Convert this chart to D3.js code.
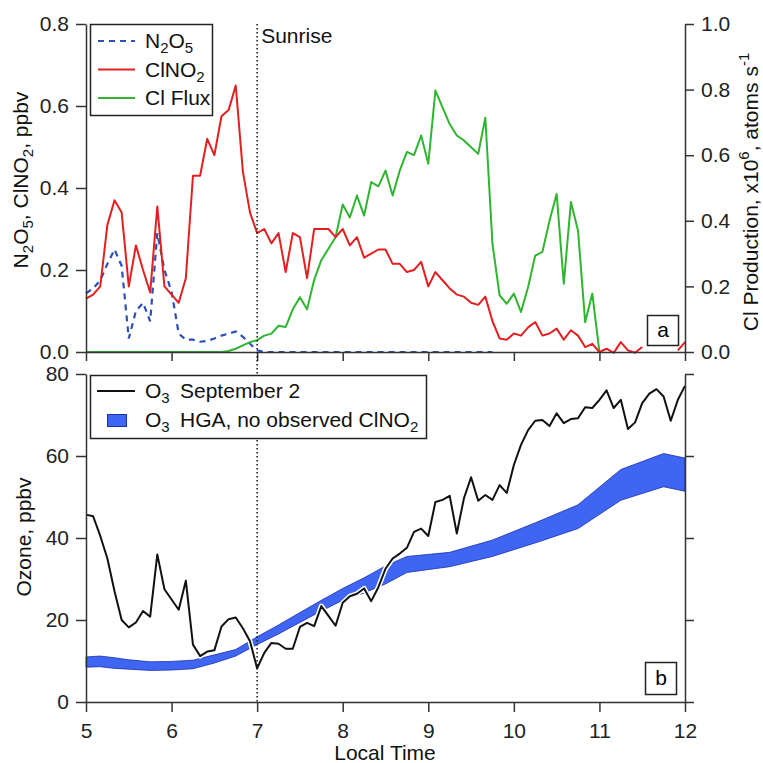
<!DOCTYPE html>
<html>
<head>
<meta charset="utf-8">
<script src="https://cdn.jsdelivr.net/npm/d3@7"></script>
<style>
body { margin: 0; background: #fff; }
svg { display: block; }
</style>
</head>
<body>
<svg id="chart"></svg>
<script>
// 5-minute local time grid
var times = [
  "5:00","5:05","5:10","5:15","5:20","5:25","5:30","5:35","5:40","5:45","5:50","5:55",
  "6:00","6:05","6:10","6:15","6:20","6:25","6:30","6:35","6:40","6:45","6:50","6:55",
  "7:00","7:05","7:10","7:15","7:20","7:25","7:30","7:35","7:40","7:45","7:50","7:55",
  "8:00","8:05","8:10","8:15","8:20","8:25","8:30","8:35","8:40","8:45","8:50","8:55",
  "9:00","9:05","9:10","9:15","9:20","9:25","9:30","9:35","9:40","9:45","9:50","9:55",
  "10:00","10:05","10:10","10:15","10:20","10:25","10:30","10:35","10:40","10:45","10:50","10:55",
  "11:00","11:05","11:10","11:15","11:20","11:25","11:30","11:35","11:40","11:45","11:50","11:55",
  "12:00"
];

// ppbv
var n2o5 = [
  0.143,0.155,0.175,0.215,0.25,0.21,0.033,0.10,0.12,0.075,0.29,0.20,
  0.147,0.045,0.03,0.03,0.025,0.027,0.033,0.04,0.045,0.05,0.037,0.02,
  0.004,0,0,0,0,0,0,0,0,0,0,0,
  0,0,0,0,0,0,0,0,0,0,0,0,
  0,0,0,0,0,0,0,0,0,0,null,null,
  null,null,null,null,null,null,null,null,null,null,null,null,
  null,null,null,null,null,null,null,null,null,null,null,null,
  null
];

var clno2 = [
  0.13,0.14,0.16,0.31,0.37,0.34,0.16,0.26,0.20,0.145,0.355,0.16,
  0.14,0.12,0.18,0.43,0.43,0.52,0.48,0.575,0.59,0.65,0.44,0.34,
  0.29,0.30,0.265,0.29,0.195,0.29,0.28,0.18,0.30,0.30,0.30,0.28,
  0.30,0.26,0.28,0.23,0.24,0.25,0.25,0.215,0.215,0.195,0.20,0.22,
  0.16,0.195,0.175,0.155,0.14,0.135,0.12,0.115,0.135,0.075,0.033,0.03,
  0.045,0.04,0.06,0.073,0.04,0.045,0.057,0.03,0.053,0.04,0.012,0.02,
  0.0,0.008,-0.002,0.024,0.004,-0.002,0.012,null,null,null,null,0.004,
  0.024
];

// x10^6 atoms s-1
var cl_flux = [
  0,0,0,0,0,0,0,0,0,0,0,0,
  0,0,0,0,0,0,0,0,0.003,0.01,0.02,0.03,
  0.036,0.05,0.056,0.08,0.076,0.13,0.167,0.13,0.22,0.28,0.315,0.35,
  0.45,0.41,0.477,0.416,0.518,0.505,0.553,0.477,0.553,0.61,0.60,0.66,
  0.574,0.797,0.746,0.695,0.66,0.645,0.624,0.604,0.714,0.33,0.173,0.147,
  0.178,0.122,0.198,0.294,0.305,0.40,0.482,0.208,0.457,0.37,0.091,0.178,
  0,null,null,null,null,null,null,null,null,null,null,null,
  null
];

// ozone, ppbv
var o3 = [
  45.7,45.3,40.5,35,27,20,18.2,19.4,22.2,20.8,36,27.5,
  25,22.5,29.6,14,11.2,12.3,12.6,18.4,20.2,20.6,18,14.8,
  8.2,12,14.4,14.2,13,13,18.3,19.3,18.5,23.4,21,18.6,
  24.2,25.8,26.4,27.7,24.6,28,32.5,35,36.2,37.6,41.5,42.3,
  40.5,48.8,49.3,50.3,41.1,49.7,54.8,49.1,50.5,49.3,52.9,51,
  57.8,62.7,66.3,68.6,68.8,67.3,70.4,68,69,69.2,71.9,71.7,
  73.7,76,71.7,73.7,66.6,68.2,72.9,75.2,76.3,74.5,68.6,73.7,
  77.1
];

// HGA ozone range, no observed ClNO2
var hga_time = ["5:00","5:10","5:20","5:30","5:45","6:00","6:15","6:30","6:45","7:00","7:15","7:30",
                "7:45","8:00","8:15","8:30","8:45","9:15","9:45","10:15","10:45","11:15","11:45","12:00"];
var hga_high = [11, 11.2, 10.8, 10.3, 9.8, 9.9, 10.2, 11.5, 12.8, 15.9, 18.8, 21.8,
                24.8, 27.7, 30.3, 33.2, 35.5, 36.5, 39.5, 43.7, 48.1, 56.7, 60.6, 59.5];
var hga_low  = [8.5, 8.6, 8.2, 8.0, 7.7, 7.8, 8.1, 9.5, 11.2, 14.0, 16.6, 19.4,
                22.2, 24.8, 26.6, 28.8, 31.6, 33.0, 35.5, 38.8, 42.3, 49.2, 52.5, 51.4];

var hour_ticks = [5, 6, 7, 8, 9, 10, 11, 12];
var ppbv_ticks = [0, 0.2, 0.4, 0.6, 0.8];
var flux_ticks = [0, 0.2, 0.4, 0.6, 0.8, 1.0];
var o3_ticks = [0, 20, 40, 60, 80];
var sunrise = "7:00";

var FONT = "'Liberation Sans', Arial, Helvetica, sans-serif";
var FS = 21;
var AXIS = "#333";

function to_hours(s) {
    var p = s.split(":");
    return +p[0] + (+p[1]) / 60;
}

var hours = times.map(to_hours);

var chart = d3.select("#chart")
    .attr("width", 763)
    .attr("height", 763)
    .style("font-family", FONT);

chart.append("rect")
    .attr("width", "100%")
    .attr("height", "100%")
    .attr("fill", "white");

var xs = d3.scaleLinear().domain([5, 12]).range([86, 685]);
var ys_top = d3.scaleLinear().domain([0, 0.8]).range([352, 24]);
var ys_flux = d3.scaleLinear().domain([0, 1]).range([352, 24]);
var ys_o3 = d3.scaleLinear().domain([0, 80]).range([702, 374]);

// text with sub / superscripts
function rich_text(sel, parts, size) {
    var shift = 0;
    parts.forEach(function(p) {
        var t = sel.append("tspan").text(p[0]);
        var want = p[1] == "sub" ? 5 : (p[1] == "sup" ? -9 : 0);
        if (want != shift) t.attr("dy", want - shift);
        if (p[1]) t.style("font-size", Math.round(size * 0.7) + "px");
        shift = want;
    });
    return sel;
}

function style_axis(g) {
    g.attr("font-family", FONT).attr("font-size", FS);
    g.select(".domain").attr("stroke", AXIS).attr("stroke-width", 1.5);
    g.selectAll(".tick line").attr("stroke", AXIS).attr("stroke-width", 1.5);
    g.selectAll(".tick text").attr("fill", "#222");
}

function series(values) {
    return values.map((v, i) => [hours[i], v]);
}

// ---------------- panel a ----------------
chart.append("path")
    .datum(series(n2o5))
    .attr("fill", "none")
    .attr("stroke", "#2f4fb8")
    .attr("stroke-width", 2.2)
    .attr("stroke-dasharray", "6,5")
    .attr("d", d3.line()
        .defined(d => d[1] != null)
        .x(d => xs(d[0]))
        .y(d => ys_top(d[1])));

chart.append("path")
    .datum(series(cl_flux))
    .attr("fill", "none")
    .attr("stroke", "#2fb52f")
    .attr("stroke-width", 2)
    .attr("stroke-linejoin", "round")
    .attr("d", d3.line()
        .defined(d => d[1] != null)
        .x(d => xs(d[0]))
        .y(d => ys_flux(d[1])));

chart.append("path")
    .datum(series(clno2))
    .attr("fill", "none")
    .attr("stroke", "#e3201f")
    .attr("stroke-width", 2)
    .attr("stroke-linejoin", "round")
    .attr("d", d3.line()
        .defined(d => d[1] != null)
        .x(d => xs(d[0]))
        .y(d => ys_top(d[1])));

chart.append("g")
    .attr("transform", "translate(86,0)")
    .call(d3.axisLeft(ys_top).tickValues(ppbv_ticks).tickFormat(d3.format(".1f"))
        .tickSize(10).tickSizeOuter(0).tickPadding(7))
    .call(style_axis);

chart.append("g")
    .attr("transform", "translate(685,0)")
    .call(d3.axisRight(ys_flux).tickValues(flux_ticks).tickFormat(d3.format(".1f"))
        .tickSize(9).tickSizeOuter(0).tickPadding(7))
    .call(style_axis);

chart.append("g")
    .attr("transform", "translate(0,352)")
    .call(d3.axisBottom(xs).tickValues(hour_ticks).tickFormat("")
        .tickSize(9).tickSizeOuter(0))
    .call(style_axis);

rich_text(chart.append("text")
    .attr("transform", "translate(28,180) rotate(-90)")
    .attr("text-anchor", "middle")
    .style("font-size", FS + "px")
    .attr("fill", "#111"),
    [["N"], ["2", "sub"], ["O"], ["5", "sub"], [", ClNO"], ["2", "sub"], [", ppbv"]], FS);

rich_text(chart.append("text")
    .attr("transform", "translate(758,192) rotate(-90)")
    .attr("text-anchor", "middle")
    .style("font-size", FS + "px")
    .attr("fill", "#111"),
    [["Cl Production, x10"], ["6", "sup"], [", atoms s"], ["-1", "sup"]], FS);

// legend a
var leg_a = chart.append("g");
leg_a.append("rect")
    .attr("x", 90.5).attr("y", 24.5).attr("width", 122).attr("height", 91)
    .attr("fill", "white").attr("stroke", "#222").attr("stroke-width", 1.5);

var leg_a_items = [
    {parts: [["N"], ["2", "sub"], ["O"], ["5", "sub"]], color: "#2f4fb8", dash: "6,5"},
    {parts: [["ClNO"], ["2", "sub"]], color: "#e3201f", dash: null},
    {parts: [["Cl Flux"]], color: "#2fb52f", dash: null}
];
leg_a_items.forEach(function(d, i) {
    var yy = 41 + i * 28.5;
    leg_a.append("line")
        .attr("x1", 98).attr("x2", 135).attr("y1", yy).attr("y2", yy)
        .attr("stroke", d.color).attr("stroke-width", 2.2)
        .attr("stroke-dasharray", d.dash);
    rich_text(leg_a.append("text")
        .attr("x", 145).attr("y", yy + 7)
        .style("font-size", FS + "px").attr("fill", "#111"), d.parts, FS);
});

// panel label a
chart.append("rect")
    .attr("x", 647.5).attr("y", 315.5).attr("width", 31).attr("height", 30)
    .attr("fill", "white").attr("stroke", "#222").attr("stroke-width", 1.5);
chart.append("text")
    .attr("x", 663).attr("y", 337)
    .attr("text-anchor", "middle")
    .style("font-size", FS + "px")
    .text("a");

// ---------------- panel b ----------------
var hga = hga_time.map((t, i) => ({t: to_hours(t), lo: hga_low[i], hi: hga_high[i]}));

chart.append("path")
    .datum(hga)
    .attr("fill", "#3f66f2")
    .attr("stroke", "#1d2fb0")
    .attr("stroke-width", 0.8)
    .attr("d", d3.area()
        .x(d => xs(d.t))
        .y0(d => ys_o3(d.lo))
        .y1(d => ys_o3(d.hi)));

var o3_line = d3.line()
    .defined(d => d[1] != null)
    .x(d => xs(d[0]))
    .y(d => ys_o3(d[1]));

// white halo where the trace crosses the band
chart.append("path")
    .datum(series(o3))
    .attr("fill", "none")
    .attr("stroke", "white")
    .attr("stroke-width", 5)
    .attr("stroke-linejoin", "round")
    .attr("d", o3_line);

chart.append("path")
    .datum(series(o3))
    .attr("fill", "none")
    .attr("stroke", "#111")
    .attr("stroke-width", 2)
    .attr("stroke-linejoin", "round")
    .attr("d", o3_line);

// sunrise marker through both panels
chart.append("line")
    .attr("x1", xs(to_hours(sunrise))).attr("x2", xs(to_hours(sunrise)))
    .attr("y1", ys_top(0.8)).attr("y2", ys_o3(0))
    .attr("stroke", "#222")
    .attr("stroke-width", 1.6)
    .attr("stroke-dasharray", "1.5,2.5");

chart.append("text")
    .attr("x", xs(to_hours(sunrise)) + 4)
    .attr("y", 43)
    .style("font-size", FS + "px")
    .attr("fill", "#111")
    .text("Sunrise");

chart.append("g")
    .attr("transform", "translate(86,0)")
    .call(d3.axisLeft(ys_o3).tickValues(o3_ticks)
        .tickSize(10).tickSizeOuter(0).tickPadding(7))
    .call(style_axis);

chart.append("g")
    .attr("transform", "translate(685,0)")
    .call(d3.axisRight(ys_o3).tickValues(o3_ticks).tickFormat("")
        .tickSize(9).tickSizeOuter(0))
    .call(style_axis);

chart.append("g")
    .attr("transform", "translate(0,702)")
    .call(d3.axisBottom(xs).tickValues(hour_ticks).tickFormat(d3.format("d"))
        .tickSize(10).tickSizeOuter(0).tickPadding(11))
    .call(style_axis);

chart.append("text")
    .attr("transform", "translate(31,537) rotate(-90)")
    .attr("text-anchor", "middle")
    .style("font-size", FS + "px")
    .attr("fill", "#111")
    .text("Ozone, ppbv");

chart.append("text")
    .attr("x", 385).attr("y", 760)
    .attr("text-anchor", "middle")
    .style("font-size", FS + "px")
    .attr("fill", "#111")
    .text("Local Time");

// legend b
var leg_b = chart.append("g");
leg_b.append("rect")
    .attr("x", 90.5).attr("y", 375.5).attr("width", 336).attr("height", 63)
    .attr("fill", "white").attr("stroke", "#222").attr("stroke-width", 1.5);

leg_b.append("line")
    .attr("x1", 97).attr("x2", 135).attr("y1", 391).attr("y2", 391)
    .attr("stroke", "#111").attr("stroke-width", 2);
rich_text(leg_b.append("text").attr("x", 145).attr("y", 398)
    .style("font-size", FS + "px").attr("fill", "#111"), [["O"], ["3", "sub"]], FS);
leg_b.append("text").attr("x", 180).attr("y", 398)
    .style("font-size", FS + "px").attr("fill", "#111")
    .text("September 2");

leg_b.append("rect")
    .attr("x", 107.5).attr("y", 414.5).attr("width", 19).attr("height", 12)
    .attr("fill", "#3f66f2").attr("stroke", "#1d2fb0").attr("stroke-width", 1);
rich_text(leg_b.append("text").attr("x", 145).attr("y", 427)
    .style("font-size", FS + "px").attr("fill", "#111"), [["O"], ["3", "sub"]], FS);
rich_text(leg_b.append("text").attr("x", 180).attr("y", 427)
    .style("font-size", FS + "px").attr("fill", "#111"), [["HGA, no observed ClNO"], ["2", "sub"]], FS);

// panel label b
chart.append("rect")
    .attr("x", 645.5).attr("y", 662.5).attr("width", 31).attr("height", 32)
    .attr("fill", "white").attr("stroke", "#222").attr("stroke-width", 1.5);
chart.append("text")
    .attr("x", 661).attr("y", 685)
    .attr("text-anchor", "middle")
    .style("font-size", FS + "px")
    .text("b");
</script>
</body>
</html>
